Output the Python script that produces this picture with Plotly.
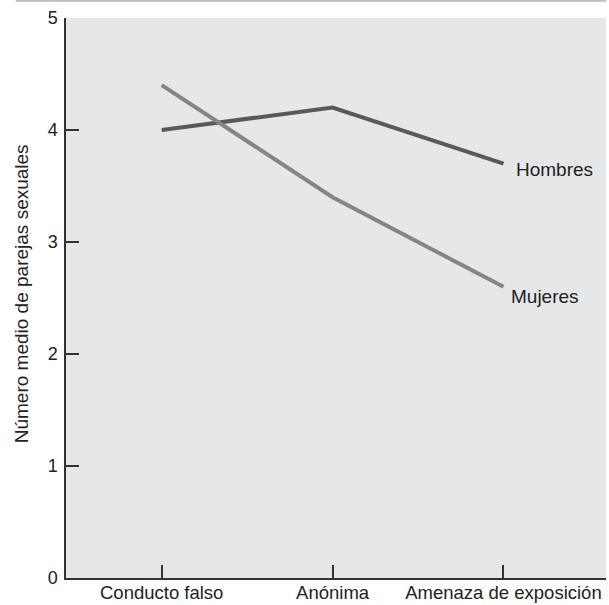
import plotly.graph_objects as go

categorias = ["Conducto falso", "Anónima", "Amenaza de exposición"]
hombres = [4.0, 4.2, 3.7]
mujeres = [4.4, 3.4, 2.6]
y_ticks = [0, 1, 2, 3, 4, 5]
titulo_y = "Número medio de parejas sexuales"

FONT = "Liberation Sans, Arial, sans-serif"
fig = go.Figure()
fig.add_trace(go.Scatter(x=categorias, y=hombres, mode="lines",
                         line=dict(color="#595959", width=4), name="Hombres"))
fig.add_trace(go.Scatter(x=categorias, y=mujeres, mode="lines",
                         line=dict(color="#858585", width=4), name="Mujeres"))

fig.add_annotation(x=categorias[-1], y=hombres[-1], text="Hombres", showarrow=False,
                   xanchor="left", yanchor="middle", xshift=11, yshift=-6,
                   font=dict(size=19, color="#222", family=FONT))
fig.add_annotation(x=categorias[-1], y=mujeres[-1], text="Mujeres", showarrow=False,
                   xanchor="left", yanchor="middle", xshift=6, yshift=-10,
                   font=dict(size=19, color="#222", family=FONT))
fig.add_annotation(xref="paper", yref="paper", x=-0.083, y=0.507, text=titulo_y,
                   textangle=-90, showarrow=False, xanchor="center", yanchor="middle",
                   font=dict(size=19, color="#222", family=FONT))

fig.add_shape(type="line", xref="paper", yref="paper", x0=-0.093, x1=1.0, y0=1.031, y1=1.031,
              line=dict(color="#bbbbbb", width=2))

fig.update_layout(
    width=609, height=605,
    margin=dict(l=66, r=3, t=18, b=27),
    paper_bgcolor="white", plot_bgcolor="#e6e7e9",
    showlegend=False,
    font=dict(family=FONT, size=18, color="#222"),
    xaxis=dict(type="category", range=[-0.56, 2.6], showgrid=False, zeroline=False,
               showline=True, linecolor="#333", linewidth=1.5, automargin=False,
               ticks="inside", ticklen=13, tickcolor="#333", tickwidth=1.5,
               ticklabelstandoff=-3, tickfont=dict(size=18.5)),
    yaxis=dict(range=[0, 5], tickvals=y_ticks, showgrid=False, zeroline=False,
               showline=True, linecolor="#333", linewidth=1.5, automargin=False,
               ticks="", ticklabelstandoff=3, tickfont=dict(size=18),
               minor=dict(tickvals=y_ticks[1:-1], ticks="inside", ticklen=13,
                          tickcolor="#333", tickwidth=1.5, showgrid=False)),
)
fig.write_html("out.html", config={"displayModeBar": False},
               post_script="document.body.style.margin='0';document.body.style.overflow='hidden';")
